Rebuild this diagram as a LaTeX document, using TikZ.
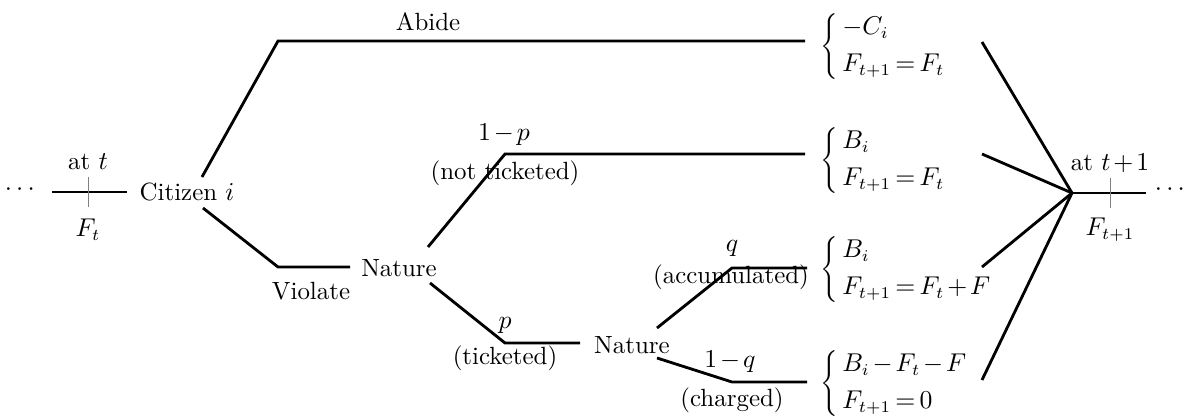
\documentclass[tikz,border=0pt]{standalone}
\usepackage{amsmath}
\newcommand{\bigbrace}{\vcenter{\hbox{\resizebox*{!}{28pt}{$\Bigg\{$}}}}
\newcommand{\payoff}[2]{$\thickmuskip=3mu\medmuskip=2mu\bigbrace\mkern3mu\begin{array}{@{}l@{}}#1\\[3pt]#2\end{array}$}
\begin{document}
\begin{tikzpicture}[x=0.4255pt,y=-0.4255pt,
  every node/.style={font=\fontsize{10.6}{12.7}\selectfont},
  branch/.style={line width=1.2pt},
  ticks/.style={line width=0.4pt,gray},
  lbl/.style={inner sep=0pt,anchor=center,execute at begin node={\thickmuskip=3mu\medmuskip=2mu}},
  pay/.style={inner sep=0pt,anchor=west}]
\useasboundingbox (0,0) rectangle (1194,419);
% nodes
\node[lbl] (dotsL) at (22,190) {$\cdots$};
\node[lbl] (atL) at (88,162) {at $t$};
\node[lbl] (FtL) at (88,230) {$F_t$};
\node[lbl] (cit) at (187,192) {Citizen $i$};
\node[lbl] (abide) at (428,22) {Abide};
\node[lbl] (violate) at (311,291) {Violate};
\node[lbl] (nat1) at (399,268) {Nature};
\node[lbl] (lp) at (504,135) {$1-p$};
\node[lbl] (notick) at (505,173) {(not ticketed)};
\node[lbl] (p) at (505,325) {$p$};
\node[lbl] (tick) at (505,358) {(ticketed)};
\node[lbl] (nat2) at (632,345) {Nature};
\node[lbl] (q) at (732,248) {$q$};
\node[lbl] (accum) at (731,277) {(accumulated)};
\node[lbl] (oneq) at (730,362) {$1-q$};
\node[lbl] (charged) at (732,400) {(charged)};
\node[pay] (pay1) at (820,47) {\payoff{-C_i}{F_{t+1}=F_t}};
\node[pay] (pay2) at (820,161) {\payoff{B_i}{F_{t+1}=F_t}};
\node[pay] (pay3) at (820,270) {\payoff{B_i}{F_{t+1}=F_t+F}};
\node[pay] (pay4) at (820,384) {\payoff{B_i-F_t-F}{F_{t+1}=0}};
\node[lbl] (atR) at (1110,163) {at $t+1$};
\node[lbl] (FtR) at (1110,230) {$F_{t+1}$};
\node[lbl] (dotsR) at (1172,190) {$\cdots$};
% coordinates
\coordinate (l0) at (52,192); \coordinate (l1) at (127,192);
\coordinate (tl0) at (88,177); \coordinate (tl1) at (88,207);
\coordinate (a0) at (202,177); \coordinate (a1) at (278,41); \coordinate (a2) at (805,41);
\coordinate (v0) at (203,208); \coordinate (v1) at (278,267); \coordinate (v2) at (350,267);
\coordinate (n0) at (428,247); \coordinate (n1) at (505,154); \coordinate (n2) at (805,154);
\coordinate (t0) at (430,283); \coordinate (t1) at (505,343); \coordinate (t2) at (580,343);
\coordinate (c0) at (657,328); \coordinate (c1) at (732,268); \coordinate (c2) at (807,268);
\coordinate (h0) at (657,358); \coordinate (h1) at (732,382); \coordinate (h2) at (807,382);
\coordinate (m) at (1072,193);
\coordinate (r1) at (982,42); \coordinate (r2) at (982,154);
\coordinate (r3) at (982,267); \coordinate (r4) at (982,380);
\coordinate (e) at (1146,193);
\coordinate (tr0) at (1110,178); \coordinate (tr1) at (1110,208);
% lines
\draw[branch] (l0) -- (l1);
\draw[ticks] (tl0) -- (tl1);
\draw[branch] (a0) -- (a1) -- (a2);
\draw[branch] (v0) -- (v1) -- (v2);
\draw[branch] (n0) -- (n1) -- (n2);
\draw[branch] (t0) -- (t1) -- (t2);
\draw[branch] (c0) -- (c1) -- (c2);
\draw[branch] (h0) -- (h1) -- (h2);
\draw[branch] (r1) -- (m);
\draw[branch] (r2) -- (m);
\draw[branch] (r3) -- (m);
\draw[branch] (r4) -- (m);
\draw[branch] (m) -- (e);
\draw[ticks] (tr0) -- (tr1);
\end{tikzpicture}
\end{document}
